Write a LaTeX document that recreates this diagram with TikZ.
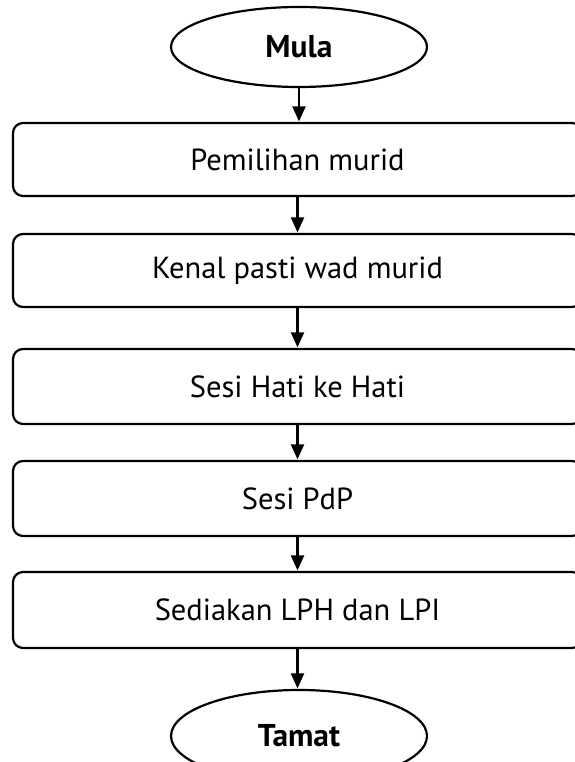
\documentclass[tikz,border=0pt]{standalone}
\usepackage{fontspec}
\setmainfont{PT Sans}
\usetikzlibrary{shapes.geometric,arrows.meta}
\begin{document}
\begin{tikzpicture}[x=1pt,y=1pt,
  stepbox/.style={draw,line width=2.2pt,rounded corners=10pt,minimum width=569pt,
    inner sep=0pt,font=\fontsize{30.5}{34}\selectfont},
  terminal/.style={draw,ellipse,line width=2.2pt,minimum width=256pt,inner sep=0pt,
    font=\fontsize{31.5}{34}\selectfont\bfseries},
  flow/.style={line width=2.2pt,-{Triangle[length=15pt,width=13pt]},shorten >=0.5pt}]
\useasboundingbox (0,0) rectangle (574,762);
% terminals
\node[terminal,minimum height=80pt] (start) at (299,715) {Mula};
\node[terminal,minimum height=92pt] (stop) at (299,26) {Tamat};
% process steps (centre y = 762 - mid of top/bottom)
\node[stepbox,minimum height=73pt] (s1) at (297.5,602.5) {Pemilihan murid};
\node[stepbox,minimum height=73pt] (s2) at (297.5,491.5) {Kenal pasti wad murid};
\node[stepbox,minimum height=75pt] (s3) at (297.5,375.5) {Sesi Hati ke Hati};
\node[stepbox,minimum height=75pt] (s4) at (297.5,263.5) {Sesi PdP};
\node[stepbox,minimum height=76pt] (s5) at (297.5,152) {Sediakan LPH dan LPI};
% connectors
\draw[flow] (start.south) -- (s1.north -| start.south);
\draw[flow] (s1.south) -- (s2.north);
\draw[flow] (s2.south) -- (s3.north);
\draw[flow] (s3.south) -- (s4.north);
\draw[flow] (s4.south) -- (s5.north);
\draw[flow] (s5.south) -- (s5.south |- stop.north);
\end{tikzpicture}
\end{document}
